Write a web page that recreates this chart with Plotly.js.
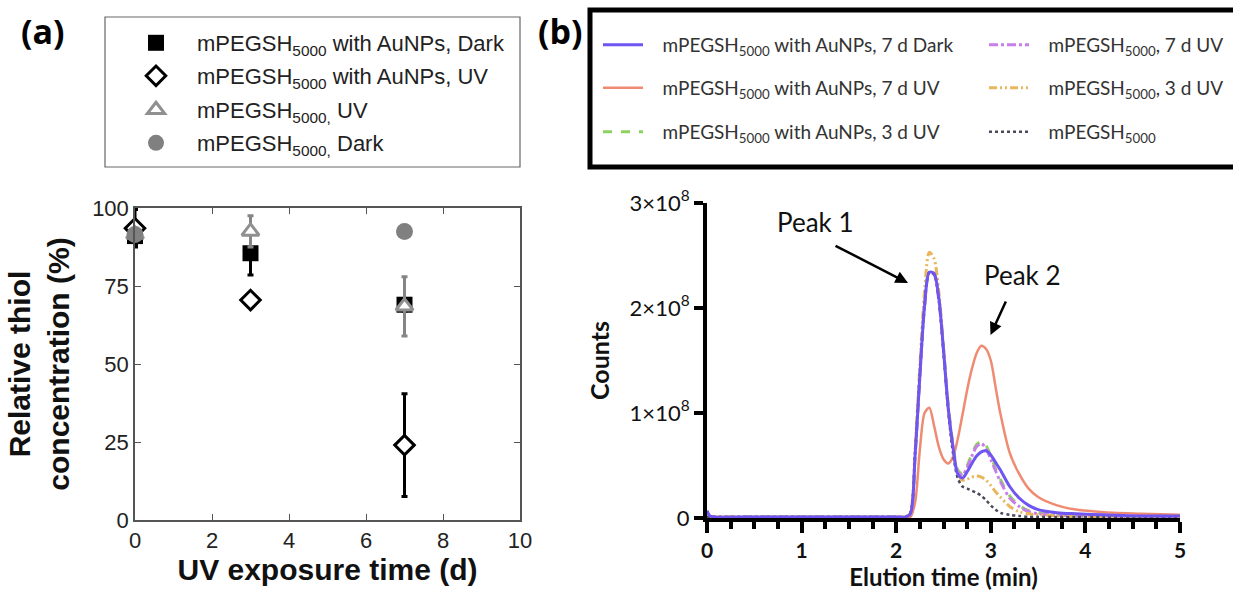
<!DOCTYPE html>
<html>
<head>
<meta charset="utf-8">
<script src="https://cdn.plot.ly/plotly-3.0.1.min.js"></script>
<style>html,body{margin:0;padding:0;background:#fff}#chart{width:1233px;height:596px}</style>
</head>
<body>
<div id="chart"></div>
<script>
// ---------- Panel (a): relative thiol concentration ----------
const uvTime = [0, 3, 7];
const aunpDarkMean = [91, 85.5, 69];
const aunpDarkErr = [3, 7, 2];
const aunpUvMean = [93.5, 70.5, 24];
const aunpUvErr = [6, 1, 16.5];
const pegUvMean = [91.5, 92.5, 68.5];
const pegUvErr = [2, 5, 9.5];
const pegDarkTime = [0, 7];
const pegDarkMean = [91.5, 92.5];
const pegDarkErr = [1, 1];

const legendA = [
  'mPEGSH<sub>5000</sub> with AuNPs, Dark',
  'mPEGSH<sub>5000</sub> with AuNPs, UV',
  'mPEGSH<sub>5000,</sub> UV',
  'mPEGSH<sub>5000,</sub> Dark'
];

// ---------- Panel (b): elution profiles (counts in units of 1e8) ----------
const elutionTime = [0, 0.03, 0.08, 0.5, 1.0, 1.5, 2.0, 2.1, 2.15, 2.2, 2.25, 2.3, 2.35, 2.4, 2.45, 2.5, 2.55, 2.6, 2.65, 2.7, 2.75, 2.8, 2.85, 2.9, 2.95, 3.0, 3.05, 3.1, 3.2, 3.3, 3.4, 3.5, 3.7, 3.9, 4.2, 4.6, 5.0];
const aunp7dDark = [0.07, 0.02, 0.01, 0.01, 0.01, 0.01, 0.01, 0.01, 0.04, 0.60, 1.35, 2.02, 2.34, 2.33, 2.10, 1.60, 1.05, 0.68, 0.42, 0.38, 0.44, 0.52, 0.59, 0.63, 0.64, 0.60, 0.53, 0.46, 0.30, 0.19, 0.12, 0.08, 0.05, 0.04, 0.03, 0.02, 0.02];
const aunp7dUv   = [0.01, 0.01, 0.01, 0.01, 0.01, 0.01, 0.01, 0.01, 0.01, 0.15, 0.65, 1.00, 1.05, 0.88, 0.68, 0.56, 0.52, 0.58, 0.75, 0.98, 1.22, 1.42, 1.57, 1.64, 1.61, 1.50, 1.25, 1.00, 0.62, 0.42, 0.28, 0.20, 0.12, 0.08, 0.055, 0.04, 0.03];
const aunp3dUv   = [0.01, 0.01, 0.01, 0.01, 0.01, 0.01, 0.01, 0.01, 0.04, 0.60, 1.35, 2.02, 2.34, 2.33, 2.10, 1.62, 1.08, 0.70, 0.46, 0.42, 0.50, 0.61, 0.70, 0.73, 0.69, 0.59, 0.47, 0.37, 0.21, 0.12, 0.07, 0.05, 0.03, 0.02, 0.02, 0.01, 0.01];
const peg7dUv    = [0.01, 0.01, 0.01, 0.01, 0.01, 0.01, 0.01, 0.01, 0.04, 0.60, 1.35, 2.02, 2.34, 2.32, 2.08, 1.60, 1.05, 0.68, 0.44, 0.41, 0.48, 0.59, 0.68, 0.71, 0.66, 0.56, 0.45, 0.35, 0.19, 0.11, 0.06, 0.04, 0.03, 0.02, 0.02, 0.01, 0.01];
const peg3dUv    = [0.01, 0.01, 0.01, 0.01, 0.01, 0.01, 0.01, 0.01, 0.06, 0.66, 1.45, 2.16, 2.53, 2.47, 2.16, 1.62, 1.05, 0.66, 0.43, 0.36, 0.37, 0.39, 0.40, 0.39, 0.36, 0.31, 0.25, 0.20, 0.11, 0.06, 0.04, 0.03, 0.02, 0.01, 0.01, 0.01, 0.01];
const pegOnly    = [0.01, 0.01, 0.01, 0.01, 0.01, 0.01, 0.01, 0.01, 0.05, 0.62, 1.38, 2.04, 2.34, 2.32, 2.08, 1.58, 1.02, 0.62, 0.38, 0.30, 0.28, 0.26, 0.24, 0.21, 0.17, 0.12, 0.08, 0.05, 0.03, 0.02, 0.01, 0.01, 0.01, 0.01, 0.01, 0.01, 0.01];

const legendB = {
  aunp7dDark: 'mPEGSH<sub>5000</sub> with AuNPs, 7 d Dark',
  aunp7dUv: 'mPEGSH<sub>5000</sub> with AuNPs, 7 d UV',
  aunp3dUv: 'mPEGSH<sub>5000</sub> with AuNPs, 3 d UV',
  peg7dUv: 'mPEGSH<sub>5000</sub>, 7 d UV',
  peg3dUv: 'mPEGSH<sub>5000</sub>, 3 d UV',
  pegOnly: 'mPEGSH<sub>5000</sub>'
};
const countTicks = [0, 1, 2, 3];
const countTickText = ['0', '1×10<sup>8</sup>', '2×10<sup>8</sup>', '3×10<sup>8</sup>'];

// ---------- helpers ----------
const W = 1233, H = 596;
const px = v => v / W;
const py = v => (H - v) / H;
const fontA = 'Liberation Sans, Arial, sans-serif';
const fontB = 'Lato, Open Sans, sans-serif';
const pad = '&nbsp;&nbsp;&nbsp;';

function errBar(arr, color) {
  return {type: 'data', array: arr, visible: true, color: color, thickness: 3, width: 3};
}

const traces = [
  {x: uvTime, y: aunpDarkMean, error_y: errBar(aunpDarkErr, '#000'), mode: 'markers', name: legendA[0], legend: 'legend',
   marker: {symbol: 'square', size: 16, color: '#000'}, cliponaxis: false, xaxis: 'x', yaxis: 'y'},
  {x: uvTime, y: aunpUvMean, error_y: errBar(aunpUvErr, '#000'), mode: 'markers', name: legendA[1], legend: 'legend2',
   marker: {symbol: 'diamond', size: 15, color: '#fff', line: {color: '#000', width: 3}}, cliponaxis: false, xaxis: 'x', yaxis: 'y'},
  {x: uvTime, y: pegUvMean, error_y: errBar(pegUvErr, '#858585'), mode: 'markers', name: legendA[2], legend: 'legend3',
   marker: {symbol: 'triangle-up', size: 15, color: '#fff', line: {color: '#909090', width: 3}}, cliponaxis: false, xaxis: 'x', yaxis: 'y'},
  {x: pegDarkTime, y: pegDarkMean, error_y: errBar(pegDarkErr, '#808080'), mode: 'markers', name: legendA[3], legend: 'legend4',
   marker: {symbol: 'circle', size: 17, color: '#808080'}, cliponaxis: false, xaxis: 'x', yaxis: 'y'},

  {x: elutionTime, y: aunp7dUv, mode: 'lines', name: pad + legendB.aunp7dUv, legend: 'legend6',
   line: {color: '#ef8b72', width: 2.5, shape: 'spline', smoothing: 0.8}, xaxis: 'x2', yaxis: 'y2'},
  {x: elutionTime, y: aunp3dUv, mode: 'lines', name: pad + legendB.aunp3dUv, legend: 'legend7',
   line: {color: '#8fd15f', width: 3, dash: 'dash', shape: 'spline', smoothing: 0.8}, xaxis: 'x2', yaxis: 'y2'},
  {x: elutionTime, y: peg7dUv, mode: 'lines', name: pad + legendB.peg7dUv, legend: 'legend8',
   line: {color: '#c87ee8', width: 3, dash: 'dashdot', shape: 'spline', smoothing: 0.8}, xaxis: 'x2', yaxis: 'y2'},
  {x: elutionTime, y: peg3dUv, mode: 'lines', name: pad + legendB.peg3dUv, legend: 'legend9',
   line: {color: '#e9b65d', width: 3, dash: '8px,3px,2px,3px,2px,3px', shape: 'spline', smoothing: 0.8}, xaxis: 'x2', yaxis: 'y2'},
  {x: elutionTime, y: pegOnly, mode: 'lines', name: pad + legendB.pegOnly, legend: 'legend10',
   line: {color: '#4a4a5a', width: 2.5, dash: 'dot', shape: 'spline', smoothing: 0.8}, xaxis: 'x2', yaxis: 'y2'},
  {x: elutionTime, y: aunp7dDark, mode: 'lines', name: pad + legendB.aunp7dDark, legend: 'legend5',
   line: {color: '#6f55f2', width: 3, shape: 'spline', smoothing: 0.8}, xaxis: 'x2', yaxis: 'y2'}
];

function leg(xp, yp, font, iw) {
  return {x: px(xp), y: py(yp), xanchor: 'left', yanchor: 'middle', bgcolor: 'rgba(0,0,0,0)', borderwidth: 0,
          font: font, itemwidth: iw, orientation: 'v'};
}
const fA = {family: fontA, size: 22, color: '#222'};
const fB = {family: fontB, size: 19, color: '#333'};

const layout = {
  width: W, height: H,
  margin: {l: 0, r: 0, t: 0, b: 0, autoexpand: false},
  paper_bgcolor: '#fff', plot_bgcolor: '#fff',
  showlegend: true,
  legend: leg(115, 43, fA, 72),
  legend2: leg(115, 76, fA, 72),
  legend3: leg(115, 110, fA, 72),
  legend4: leg(115, 143, fA, 72),
  legend5: leg(598, 45, fB, 40),
  legend6: leg(598, 88, fB, 40),
  legend7: leg(598, 132, fB, 40),
  legend8: leg(984, 45, fB, 40),
  legend9: leg(984, 88, fB, 40),
  legend10: leg(984, 132, fB, 40),
  xaxis: {domain: [px(135), px(520)], range: [0, 10], dtick: 2, anchor: 'y',
          showline: true, linecolor: '#555', linewidth: 1.5, mirror: 'ticks',
          ticks: 'inside', ticklen: 6, tickwidth: 1.2, tickcolor: '#555',
          showgrid: false, zeroline: false,
          tickfont: {family: fontA, size: 22, color: '#222'},
          title: {text: '<b>UV exposure time (d)</b>', font: {family: fontA, size: 30, color: '#111'}, standoff: 6},
          automargin: true},
  yaxis: {domain: [py(520), py(208)], range: [0, 100], dtick: 25, anchor: 'x',
          showline: true, linecolor: '#555', linewidth: 1.5, mirror: 'ticks',
          ticks: 'inside', ticklen: 6, tickwidth: 1.2, tickcolor: '#555',
          showgrid: false, zeroline: false,
          tickfont: {family: fontA, size: 22, color: '#222'},
          title: {text: '<b>Relative thiol<br>concentration (%)</b>', font: {family: fontA, size: 30, color: '#111'}, standoff: 14},
          automargin: true},
  xaxis2: {domain: [px(707), px(1180)], range: [0, 5], dtick: 1, anchor: 'y2',
           showline: true, linecolor: '#000', linewidth: 4,
           ticks: 'outside', ticklen: 11, tickwidth: 4, tickcolor: '#000',
           minor: {dtick: 0.25, ticks: 'outside', ticklen: 7, tickwidth: 4, tickcolor: '#000'},
           showgrid: false, zeroline: false,
           tickfont: {family: fontB, size: 21, color: '#111', weight: 'bold'},
           title: {text: 'Elution time (min)', font: {family: fontB, size: 24, color: '#111', weight: 'bold'}, standoff: 8},
           automargin: true},
  yaxis2: {domain: [py(518), py(203)], range: [0, 3], anchor: 'x2',
           tickvals: countTicks, ticktext: countTickText,
           showline: true, linecolor: '#000', linewidth: 4,
           ticks: 'outside', ticklen: 9, tickwidth: 4, tickcolor: '#000',
           showgrid: false, zeroline: false,
           tickfont: {family: fontB, size: 22, color: '#111'},
           title: {text: 'Counts', font: {family: fontB, size: 25, color: '#111', weight: 'bold'}, standoff: 14},
           automargin: true},
  shapes: [
    {type: 'rect', xref: 'paper', yref: 'paper', x0: px(105), x1: px(520), y0: py(167), y1: py(17),
     line: {color: '#666', width: 1.2}, fillcolor: 'rgba(0,0,0,0)', layer: 'below'},
    {type: 'rect', xref: 'paper', yref: 'paper', x0: px(590), x1: px(1245), y0: py(167), y1: py(10),
     line: {color: '#000', width: 5}, fillcolor: 'rgba(0,0,0,0)', layer: 'below'}
  ],
  annotations: [
    {xref: 'paper', yref: 'paper', x: px(43), y: py(31), xanchor: 'center', yanchor: 'middle', text: '<b>(a)</b>', showarrow: false,
     font: {family: 'Open Sans, sans-serif', size: 34, color: '#000'}},
    {xref: 'paper', yref: 'paper', x: px(560), y: py(31), xanchor: 'center', yanchor: 'middle', text: '<b>(b)</b>', showarrow: false,
     font: {family: 'Open Sans, sans-serif', size: 34, color: '#000'}},
    {xref: 'x2', yref: 'y2', x: 1.142, y: 2.82, text: 'Peak 1', showarrow: false,
     font: {family: fontB, size: 26, color: '#111'}},
    {xref: 'x2', yref: 'y2', x: 3.34, y: 2.31, text: 'Peak 2', showarrow: false,
     font: {family: fontB, size: 26, color: '#111'}},
    {xref: 'x2', yref: 'y2', x: 2.125, y: 2.238, ax: -74, ay: -38, text: '', showarrow: true,
     arrowhead: 2, arrowsize: 1, arrowwidth: 2.5, arrowcolor: '#000'},
    {xref: 'x2', yref: 'y2', x: 2.997, y: 1.743, ax: 16, ay: -35, text: '', showarrow: true,
     arrowhead: 2, arrowsize: 1, arrowwidth: 2.5, arrowcolor: '#000'}
  ]
};

Plotly.newPlot('chart', traces, layout, {displayModeBar: false, responsive: false});
</script>
</body>
</html>
